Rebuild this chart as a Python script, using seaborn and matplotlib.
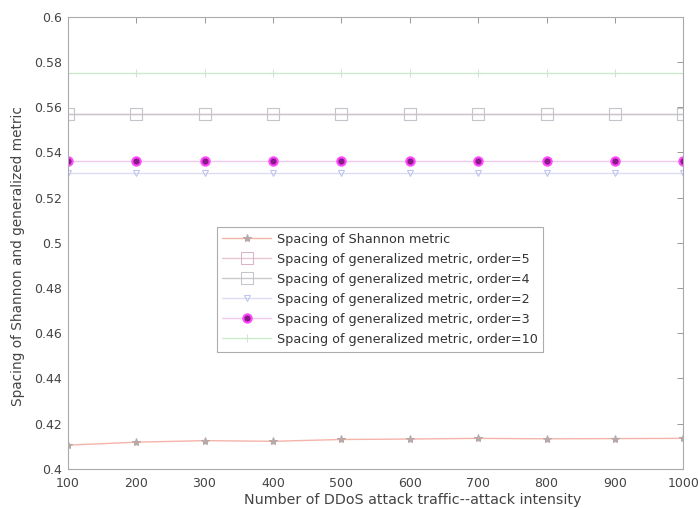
import matplotlib
matplotlib.use("Agg")
import matplotlib.pyplot as plt
import seaborn as sns
import pandas as pd

intensity = [100, 200, 300, 400, 500, 600, 700, 800, 900, 1000]
shannon = [0.4105, 0.4118, 0.4125, 0.4122, 0.4130, 0.4132, 0.4135, 0.4133, 0.4134, 0.4135]
order5 = [0.557, 0.557, 0.557, 0.557, 0.557, 0.557, 0.557, 0.557, 0.557, 0.557]
order4 = [0.5568, 0.5568, 0.5568, 0.5568, 0.5568, 0.5568, 0.5568, 0.5568, 0.5568, 0.5568]
order2 = [0.531, 0.531, 0.531, 0.531, 0.531, 0.531, 0.531, 0.531, 0.531, 0.531]
order3 = [0.536, 0.536, 0.536, 0.536, 0.536, 0.536, 0.536, 0.536, 0.536, 0.536]
order10 = [0.575, 0.575, 0.575, 0.575, 0.575, 0.575, 0.575, 0.575, 0.575, 0.575]

labels = [
    "Spacing of Shannon metric",
    "Spacing of generalized metric, order=5",
    "Spacing of generalized metric, order=4",
    "Spacing of generalized metric, order=2",
    "Spacing of generalized metric, order=3",
    "Spacing of generalized metric, order=10",
]
series = [shannon, order5, order4, order2, order3, order10]
ytick_labels = ["0.4", "0.42", "0.44", "0.46", "0.48", "0.5", "0.52", "0.54", "0.56", "0.58", "0.6"]
yticks = [0.4, 0.42, 0.44, 0.46, 0.48, 0.5, 0.52, 0.54, 0.56, 0.58, 0.6]

sns.set_style("white")
plt.rcParams["font.family"] = ["DejaVu Sans"]

styles = [
    dict(color="#f4b4a8", marker="*", markersize=6, markerfacecolor="#b8a8a8", markeredgecolor="#b8a8a8"),
    dict(color="#e8c4d4", marker="s", markersize=9, markerfacecolor="none", markeredgecolor="#d8b4c8"),
    dict(color="#cacace", marker="s", markersize=8, markerfacecolor="none", markeredgecolor="#c4c4cc"),
    dict(color="#dcdcf2", marker="v", markersize=5, markerfacecolor="none", markeredgecolor="#bcc4f0"),
    dict(color="#f0c8f0", marker="o", markersize=6, markerfacecolor="#8a1a8a", markeredgecolor="#ff48ff", markeredgewidth=1.5),
    dict(color="#cceccc", marker="+", markersize=6, markerfacecolor="none", markeredgecolor="#cce8cc"),
]

fig = plt.figure(figsize=(6.98, 5.08), dpi=100)
ax = fig.add_axes([0.097, 0.077, 0.882, 0.890])

for vals, lab, st in zip(series, labels, styles):
    df = pd.DataFrame({"x": intensity, "y": vals})
    sns.lineplot(data=df, x="x", y="y", ax=ax, label=lab, linewidth=1.0, **st)

ax.set_xlim(100, 1000)
ax.set_ylim(0.4, 0.6)
ax.set_xticks(intensity)
ax.set_xticklabels([str(v) for v in intensity])
ax.set_yticks(yticks)
ax.set_yticklabels(ytick_labels)
ax.tick_params(direction="in", top=True, right=True, length=4, width=0.6,
               color="#888888", labelsize=9.0, labelcolor="#444444")
ax.tick_params(axis="x", pad=6)
ax.tick_params(axis="y", pad=4)
for s in ax.spines.values():
    s.set_color("#aaaaaa")
    s.set_linewidth(0.8)

ax.set_xlabel("Number of DDoS attack traffic--attack intensity", fontsize=10.3, color="#444444")
ax.xaxis.set_label_coords(0.561, -0.054)
ax.set_ylabel("Spacing of Shannon and generalized metric", fontsize=9.8, color="#444444")
ax.yaxis.set_label_coords(-0.070, 0.47)

leg = ax.legend(loc="upper left", bbox_to_anchor=(0.242, 0.535), fontsize=9.2,
                frameon=True, fancybox=False, borderpad=0.45, labelspacing=0.55,
                handlelength=3.8, handletextpad=0.45, borderaxespad=0)
leg.get_frame().set_edgecolor("#999999")
leg.get_frame().set_linewidth(0.8)
for t in leg.get_texts():
    t.set_color("#333333")

fig.savefig("out.png", dpi=100)
